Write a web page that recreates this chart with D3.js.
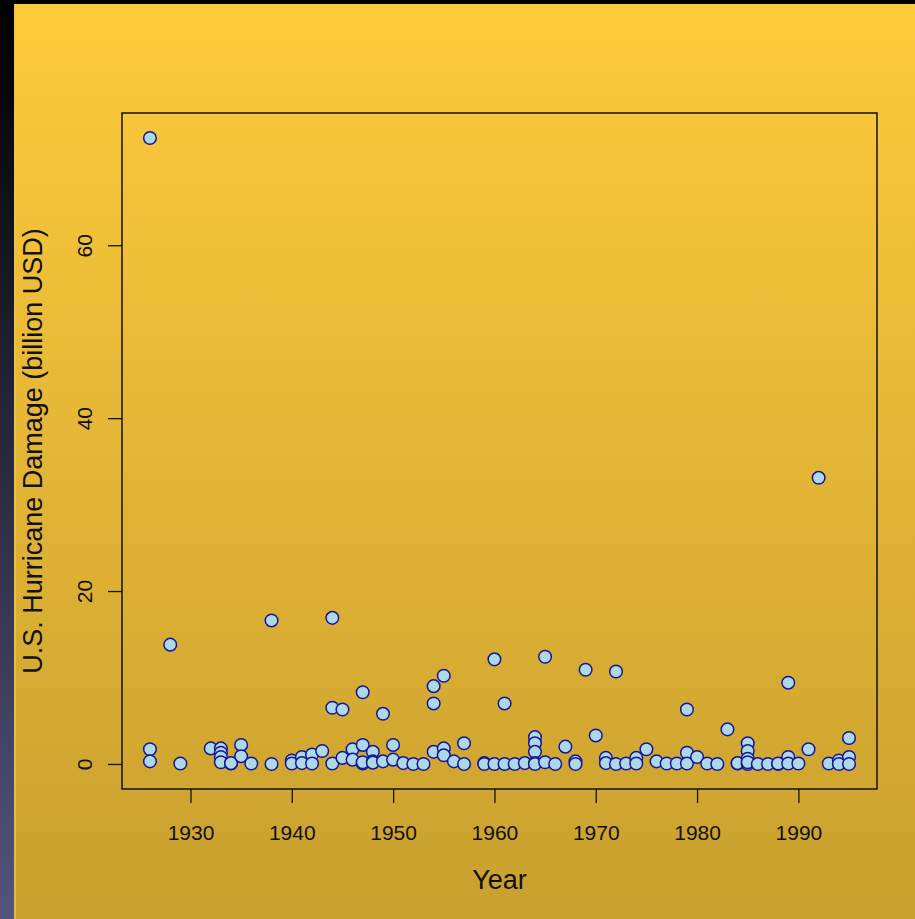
<!DOCTYPE html>
<html>
<head>
<meta charset="utf-8">
<script src="https://cdn.jsdelivr.net/npm/d3@7"></script>
<style>
  html, body { margin: 0; padding: 0; background: #000; }
  svg { display: block; }
  text { font-family: "Liberation Sans", Arial, Helvetica, sans-serif; fill: #111; }
</style>
</head>
<body>
<div id="chart"></div>
<script>
/* DATA */
const years = [
  1926, 1926, 1926, 1928, 1929, 1932, 1933, 1933, 1933, 1933,
  1934, 1934, 1935, 1935, 1936, 1938, 1938, 1940, 1940, 1941,
  1941, 1942, 1942, 1943, 1944, 1944, 1944, 1945, 1945, 1946,
  1946, 1947, 1947, 1947, 1947, 1948, 1948, 1948, 1949, 1949,
  1950, 1950, 1951, 1952, 1953, 1954, 1954, 1954, 1955, 1955,
  1955, 1956, 1957, 1957, 1959, 1959, 1960, 1960, 1961, 1961,
  1962, 1963, 1964, 1964, 1964, 1964, 1964, 1965, 1965, 1966,
  1967, 1968, 1968, 1969, 1970, 1971, 1971, 1972, 1972, 1973,
  1974, 1974, 1975, 1976, 1977, 1978, 1979, 1979, 1979, 1980,
  1981, 1982, 1983, 1984, 1984, 1985, 1985, 1985, 1985, 1985,
  1986, 1987, 1988, 1988, 1989, 1989, 1989, 1990, 1991, 1992,
  1993, 1994, 1994, 1995, 1995, 1995
];
const damage = [
  72.4, 1.7, 0.3, 13.8, 0.05, 1.8, 1.8, 1.3, 0.8, 0.2,
  0.05, 0.1, 2.2, 0.9, 0.05, 16.6, 0.0, 0.4, 0.05, 0.8,
  0.1, 1.1, 0.05, 1.5, 16.9, 6.5, 0.05, 6.3, 0.7, 1.7,
  0.5, 8.3, 2.2, 0.05, 0.2, 1.4, 0.3, 0.15, 5.8, 0.3,
  2.2, 0.5, 0.1, 0.0, 0.0, 9.0, 7.0, 1.4, 10.2, 1.8,
  1.0, 0.3, 2.4, 0.0, 0.1, 0.0, 12.1, 0.0, 7.0, 0.0,
  0.0, 0.1, 3.1, 2.4, 1.4, 0.1, 0.0, 12.4, 0.2, 0.0,
  2.0, 0.3, 0.0, 10.9, 3.3, 0.7, 0.1, 10.7, 0.0, 0.05,
  0.7, 0.05, 1.7, 0.3, 0.05, 0.05, 6.3, 1.3, 0.05, 0.8,
  0.05, 0.0, 4.0, 0.05, 0.1, 2.4, 1.5, 0.6, 0.0, 0.2,
  0.0, 0.0, 0.0, 0.05, 9.4, 0.8, 0.05, 0.05, 1.7, 33.1,
  0.05, 0.4, 0.0, 3.0, 0.8, 0.0
];
const xTicks = [1930, 1940, 1950, 1960, 1970, 1980, 1990];
const yTicks = [0, 20, 40, 60];
const xTitle = "Year";
const yTitle = "U.S. Hurricane Damage (billion USD)";

/* LAYOUT */
const width = 915, height = 919;
const box = {left: 122, top: 113, right: 877, bottom: 789};
const tickLen = 14;

const points = years.map((y, i) => ({year: y, value: damage[i]}));

// pad the data range by 4% each side, the way base graphics does
function padded(ext) {
  const p = (ext[1] - ext[0]) * 0.04;
  return [ext[0] - p, ext[1] + p];
}

const x = d3.scaleLinear()
  .domain(padded(d3.extent(years)))
  .range([box.left, box.right]);
const y = d3.scaleLinear()
  .domain(padded(d3.extent(damage)))
  .range([box.bottom, box.top]);

const svg = d3.select("#chart").append("svg")
  .attr("width", width)
  .attr("height", height);

const defs = svg.append("defs");
const sideGrad = defs.append("linearGradient").attr("id", "side")
  .attr("x1", 0).attr("y1", 0).attr("x2", 0).attr("y2", 1);
sideGrad.append("stop").attr("offset", "0%").attr("stop-color", "#000000");
sideGrad.append("stop").attr("offset", "100%").attr("stop-color", "#54547c");

const panelGrad = defs.append("linearGradient").attr("id", "panel")
  .attr("x1", 0).attr("y1", 0).attr("x2", 0).attr("y2", 1);
panelGrad.append("stop").attr("offset", "0%").attr("stop-color", "#fecb3c");
panelGrad.append("stop").attr("offset", "100%").attr("stop-color", "#c9a02f");

// backdrop
svg.append("rect").attr("width", width).attr("height", height).attr("fill", "#000");
svg.append("rect").attr("x", 0).attr("y", 4).attr("width", 14).attr("height", height - 4)
  .attr("fill", "url(#side)");
svg.append("rect").attr("x", 14).attr("y", 4).attr("width", width - 14).attr("height", height - 4)
  .attr("fill", "url(#panel)");
svg.append("rect").attr("x", 14).attr("y", 4).attr("width", 2).attr("height", height - 4)
  .attr("fill", "#f2c444").attr("opacity", 0.7);

// axes
const xAxis = svg.append("g")
  .attr("transform", `translate(0,${box.bottom})`)
  .call(d3.axisBottom(x).tickValues(xTicks).tickSize(tickLen).tickPadding(22).tickFormat(d3.format("d")));
const yAxis = svg.append("g")
  .attr("transform", `translate(${box.left},0)`)
  .call(d3.axisLeft(y).tickValues(yTicks).tickSize(tickLen).tickPadding(16).tickFormat(d3.format("d")));

[xAxis, yAxis].forEach(g => {
  g.select(".domain").remove();
  g.selectAll(".tick line").attr("stroke", "#111").attr("stroke-width", 1.3);
  g.selectAll(".tick text").attr("fill", "#111").style("font-size", "21px")
    .style("font-family", '"Liberation Sans", Arial, sans-serif');
});
yAxis.selectAll(".tick text")
  .attr("text-anchor", "middle")
  .attr("x", null).attr("dy", null)
  .attr("transform", "translate(-30,0) rotate(-90)");

// plot box
svg.append("rect")
  .attr("x", box.left).attr("y", box.top)
  .attr("width", box.right - box.left).attr("height", box.bottom - box.top)
  .attr("fill", "none").attr("stroke", "#111").attr("stroke-width", 1.5);

// points
svg.append("g").selectAll("circle")
  .data(points)
  .join("circle")
  .attr("cx", d => x(d.year))
  .attr("cy", d => y(d.value))
  .attr("r", 6.3)
  .attr("fill", "#add8e6")
  .attr("stroke", "#14149a")
  .attr("stroke-width", 1.5);

// titles
svg.append("text")
  .attr("x", (box.left + box.right) / 2)
  .attr("y", 889)
  .attr("text-anchor", "middle")
  .style("font-size", "27px")
  .text(xTitle);
svg.append("text")
  .attr("transform", `translate(42,${(box.top + box.bottom) / 2}) rotate(-90)`)
  .attr("text-anchor", "middle")
  .style("font-size", "27px")
  .text(yTitle);
</script>
</body>
</html>
